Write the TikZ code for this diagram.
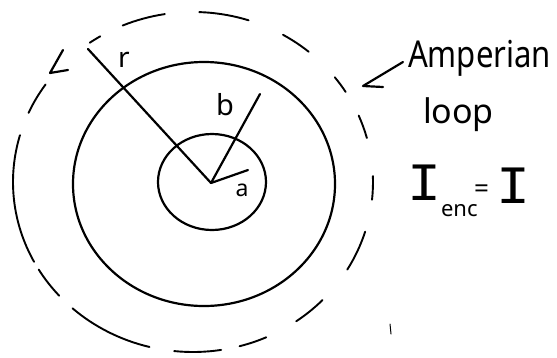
\documentclass[tikz,border=0pt]{standalone}
\usepackage{fontspec}
\setmainfont{Noto Sans}
\newfontfamily\monoI{Liberation Mono}
\begin{document}
\begin{tikzpicture}[x=1pt,y=-1pt, line cap=round, line join=round,
  pen/.style={line width=2.2pt, black},
  dashpen/.style={line width=1.9pt, black},
  lbl/.style={inner sep=0pt, outer sep=0pt},
  bigI/.style={lbl, anchor=base west, xscale=1.05, font=\monoI\fontsize{54}{56}\selectfont}]
\useasboundingbox (0,0) rectangle (557,357);
\fill[white] (0,0) rectangle (557,357);
% centre
\coordinate (c) at (211,183);
% inner conductor
\draw[pen] (212,182) ellipse [x radius=54, y radius=48];
% outer conductor
\draw[pen] (204,184) ellipse [x radius=131, y radius=122];
% Amperian loop (dashed)
\coordinate (lc) at (193,182);
\foreach \a/\b in {-121/-125, -99/-113, -72/-88, -50/-60, -32/-38, -15/-23, 6/-2, 31/17, 55/44, 75/66, 96/81, 132/104, 149/138, -164/-208, -145/-156}
  \draw[dashpen] ([shift={(\a:180 and 170)}]lc) arc[start angle=\a, end angle=\b, x radius=180, y radius=170];
% direction chevron on loop
\coordinate (chA) at (63,50);
\coordinate (chT) at (50,73);
\coordinate (chB) at (68,70);
\draw[pen] (chA) -- (chT) -- (chB);
% radii
\coordinate (rend) at (88,49);
\coordinate (bend) at (260,94);
\coordinate (aend) at (248,170);
\draw[pen] (rend) -- (c);
\draw[pen] (bend) -- (c);
\draw[pen] (c) -- (aend);
% labels
\node[lbl, anchor=base, font=\fontsize{28}{30}\selectfont] (r) at (124,67) {r};
\node[lbl, anchor=base, font=\fontsize{29}{30}\selectfont] (b) at (225,115) {b};
\node[lbl, anchor=base, font=\fontsize{23}{25}\selectfont] (a) at (242,196) {a};
\node[lbl, anchor=base west, xscale=0.84, font=\fontsize{37}{40}\selectfont] (amp) at (408,67) {Amperian};
\node[lbl, anchor=base west, font=\fontsize{34}{36}\selectfont] (loop) at (423,123) {loop};
% arrow from label to loop
\coordinate (arS) at (403,62);
\coordinate (arT) at (363,86);
\coordinate (arB) at (383,87);
\draw[pen] (arS) -- (arT) -- (arB);
% I_enc = I
\node[bigI] (I1) at (407,200) {I};
\node[lbl, anchor=base west, font=\fontsize{22}{24}\selectfont] (enc) at (441,216) {enc};
\node[lbl, anchor=base west, font=\fontsize{26}{28}\selectfont] (eq) at (474,197) {=};
\node[bigI] (I2) at (496,203) {I};
% stray mark
\coordinate (s1) at (390,324);
\coordinate (s2) at (391,334);
\draw[line width=1pt] (s1) -- (s2);
\end{tikzpicture}
\end{document}
